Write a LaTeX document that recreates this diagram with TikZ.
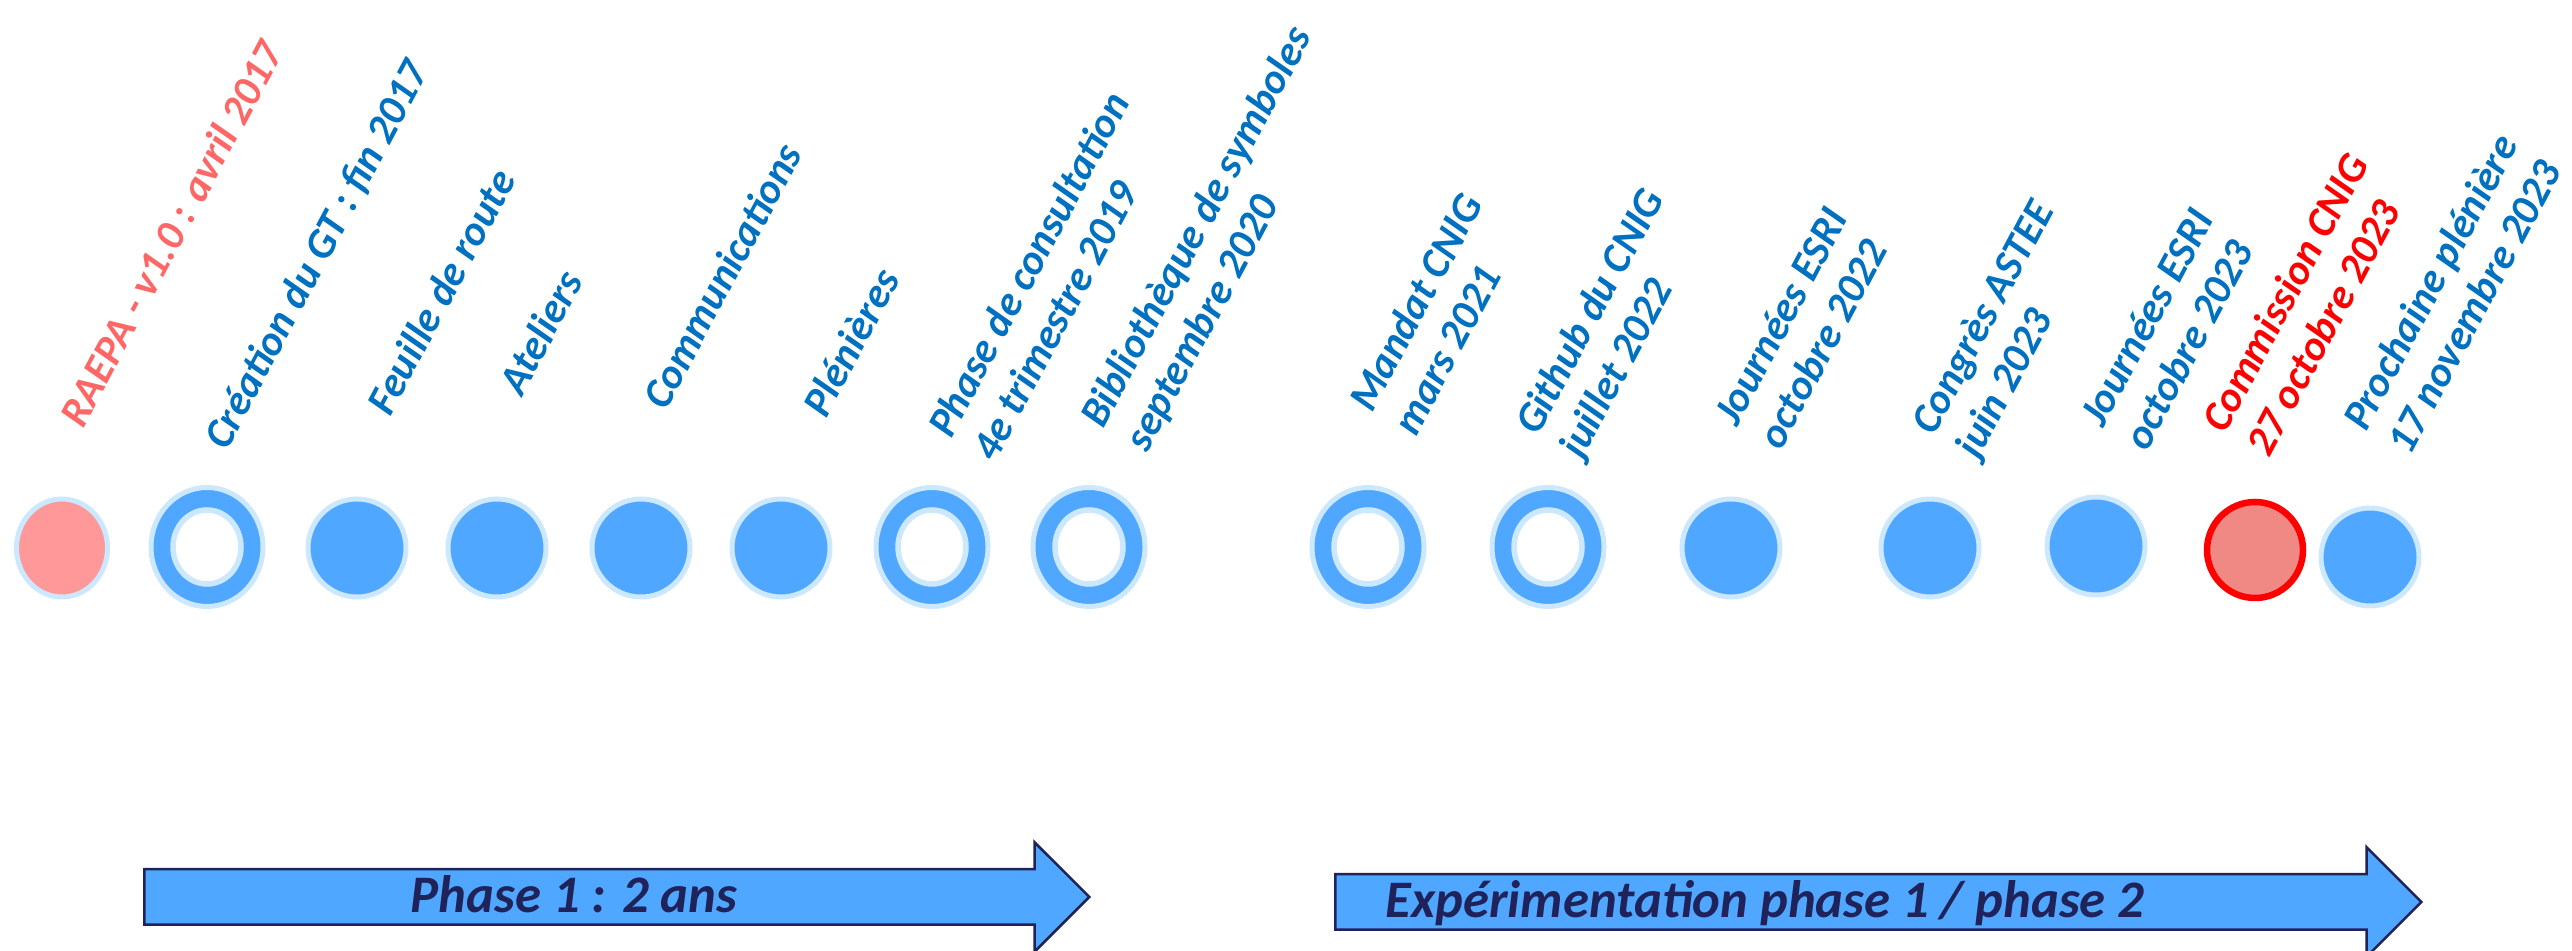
\documentclass[tikz,border=0pt]{standalone}
\usepackage{fontspec}
\setmainfont{Carlito}
\usepackage{xcolor}
\usepackage{tikz}
\usetikzlibrary{shapes.geometric,shapes.arrows}

\definecolor{dotblue}{RGB}{79,167,255}
\definecolor{dotrim}{RGB}{204,232,255}
\definecolor{dotpink}{RGB}{255,153,153}
\definecolor{dotred}{RGB}{240,136,132}
\definecolor{lblblue}{RGB}{0,112,192}
\definecolor{lblpink}{RGB}{255,102,102}
\definecolor{navy}{RGB}{32,34,90}

\begin{document}
\begin{tikzpicture}[
    x=1cm,y=1cm,
    dot/.style={ellipse, draw=dotrim, line width=0.05cm, fill=dotblue, inner sep=0pt,
                minimum width=0.98cm, minimum height=0.98cm},
    ring/.style={dot, minimum width=1.12cm, minimum height=1.19cm,
                 path picture={\draw[dotrim, line width=0.055cm, fill=white]
                   (path picture bounding box.center) ellipse (0.34cm and 0.37cm);}},
    lbl/.style={rotate=62, anchor=base west, align=left, inner sep=0pt, text=lblblue,
                font=\fontsize{12}{14.2}\selectfont\bfseries\itshape},
    phasearrow/.style={single arrow, draw=navy, line width=0.025cm, fill=dotblue,
                anchor=tail, inner xsep=0pt, inner ysep=0.265cm, minimum width=1.07cm,
                single arrow head extend=0.27cm},
    phasetext/.style={text=navy, inner sep=0pt,
                font=\fontsize{15}{18}\selectfont\bfseries\itshape}
]
\useasboundingbox (0,0) rectangle (25.72,-9.51);

% timeline events
\node[dot, fill=dotpink, minimum width=0.91cm] (raepa) at (0.62,-5.48) {};
\node[ring] (creation) at (2.07,-5.47) {};
\node[dot] (feuille) at (3.57,-5.48) {};
\node[dot] (ateliers) at (4.97,-5.48) {};
\node[dot] (comm) at (6.41,-5.48) {};
\node[dot] (plenieres) at (7.81,-5.48) {};
\node[ring] (consult) at (9.32,-5.47) {};
\node[ring] (biblio) at (10.89,-5.47) {};
\node[ring] (mandat) at (13.68,-5.47) {};
\node[ring] (github) at (15.48,-5.47) {};
\node[dot] (esri22) at (17.31,-5.48) {};
\node[dot] (astee) at (19.30,-5.48) {};
\node[dot] (esri23) at (20.96,-5.46) {};
\node[dot, draw=red, fill=dotred, line width=0.065cm, minimum width=0.96cm,
      minimum height=0.96cm] (commission) at (22.55,-5.50) {};
\node[dot] (prochaine) at (23.70,-5.57) {};

% labels (anchored on the last line)
\node[lbl, text=lblpink] (raepalbl) at (0.83,-4.30) {RAEPA - v1.0 : avril 2017};
\node[lbl] (creationlbl) at (2.27,-4.52) {Création du GT : fin 2017};
\node[lbl] (feuillelbl) at (3.90,-4.18) {Feuille de route};
\node[lbl] (atelierslbl) at (5.22,-3.98) {Ateliers};
\node[lbl] (commlbl) at (6.66,-4.12) {Communications};
\node[lbl] (plenlbl) at (8.26,-4.20) {Plénières};
\node[lbl] (consultlbl) at (9.95,-4.64) {Phase de consultation\\4e trimestre 2019};
\node[lbl] (bibliolbl) at (11.47,-4.54) {Bibliothèque de symboles\\septembre 2020};
\node[lbl] (mandatlbl) at (14.16,-4.38) {Mandat CNIG\\mars 2021};
\node[lbl] (githublbl) at (15.82,-4.61) {Github du CNIG\\juillet 2022};
\node[lbl] (esri22lbl) at (17.81,-4.52) {Journées ESRI\\octobre 2022};
\node[lbl] (asteelbl) at (19.78,-4.61) {Congrès ASTEE\\juin 2023};
\node[lbl] (esri23lbl) at (21.47,-4.53) {Journées ESRI\\octobre 2023};
\node[lbl, text=red] (commissionlbl) at (22.69,-4.59) {Commission CNIG\\27 octobre 2023};
\node[lbl] (prochainelbl) at (24.10,-4.57) {Prochaine plénière\\17 novembre 2023};

% phases
\node[phasearrow, minimum height=9.45cm] (phase1) at (1.43,-8.97) {};
\node[phasetext, anchor=base] (phase1lbl) at (5.74,-9.13) {Phase 1 : 2 ans};
\node[phasearrow, minimum height=10.86cm] (phase2) at (13.34,-9.02) {};
\node[phasetext, anchor=base west] (phase2lbl) at (13.85,-9.18)
  {Expérimentation phase 1 / phase 2};
\end{tikzpicture}
\end{document}
